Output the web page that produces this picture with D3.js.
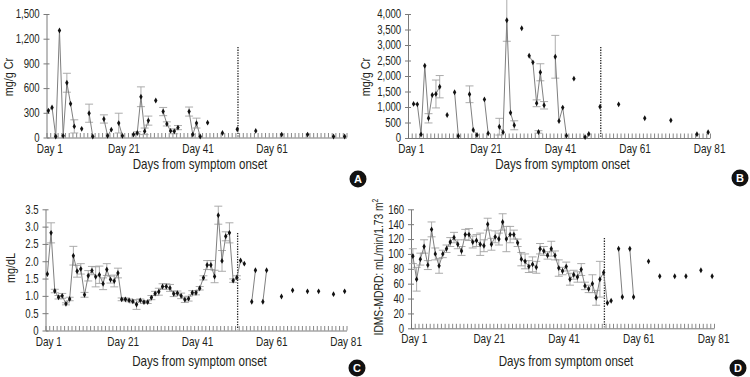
<!DOCTYPE html>
<html><head><meta charset="utf-8">
<script src="https://cdn.jsdelivr.net/npm/d3@7"></script>
<style>
body{margin:0;background:#fff}
svg{display:block}
text{font-family:"Liberation Sans",Arial,sans-serif;fill:#231f20}
</style></head><body>
<svg id="c" width="750" height="377"></svg>
<script>
// ---------- data ----------
const aDays=[1,2,3,4,5,6,7,8,10,12,13,16,17,18,20,21,24,25,26,27,28,30,32,33,34,35,36,39,40,41,42,44,48,52,57,64,71,78,81];
const aVals=[325,365,12,1300,20,665,410,135,105,295,12,225,20,95,175,20,35,55,495,75,205,450,315,165,80,75,120,315,35,175,12,180,55,100,80,35,35,12,12];
const aErr=[0,0,0,0,0,115,0,80,0,110,0,50,0,0,120,0,0,15,120,40,55,0,50,25,0,30,25,55,0,60,0,0,0,0,0,0,0,0,0];
const aSeg=[1,1,1,1,1,1,1,1,0,2,2,3,3,3,4,4,5,5,5,5,5,0,6,6,6,6,6,7,7,7,7,0,0,0,0,0,0,0,0];
const aTicks=[0,300,600,900,1200,1500];

const bDays=[2,3,4,5,6,7,8,9,11,13,14,17,18,19,21,22,25,26,27,28,29,31,33,34,35,35.5,36,37,40,41,42,43,45,48,49,52,57,64,71,78,81];
const bVals=[1100,1085,115,2330,635,1385,1420,1655,740,1475,65,1410,260,95,1245,150,365,185,3800,815,410,3540,2655,2440,1120,195,2120,1055,2620,550,980,75,1915,30,130,1010,1085,635,570,120,185];
const bErr=[0,0,0,0,150,0,450,360,0,0,0,270,0,0,0,0,270,0,680,0,145,0,0,0,110,40,275,120,690,0,0,0,0,0,0,0,0,0,0,0,0];
const bSeg=[1,1,1,1,1,1,1,1,0,2,2,3,3,3,4,4,5,5,5,5,5,0,6,6,6,0,6,6,7,7,7,7,0,0,0,0,0,0,0,0,0];
const bTicks=[0,500,1000,1500,2000,2500,3000,3500,4000];

const cDays=[1,2,3,4,5,6,7,8,9,10,11,12,13,14,15,16,17,18,19,20,21,22,23,24,25,26,27,28,29,30,31,32,33,34,35,36,37,38,39,40,41,42,43,44,45,46,47,48,49,50,51,52,53,54,56,57,59,60,64,67,71,74,78,81];
const cVals=[1.63,2.82,1.14,0.96,1.00,0.77,0.91,2.16,1.71,1.78,1.03,1.58,1.73,1.55,1.61,1.35,1.76,1.47,1.43,1.66,0.90,0.90,0.87,0.84,0.75,0.87,0.82,0.82,0.95,1.07,1.12,1.27,1.27,1.23,1.06,1.08,1.00,0.89,0.92,1.09,1.09,1.22,1.52,1.89,1.89,1.56,3.33,2.01,2.72,2.82,1.44,1.53,2.02,1.93,0.83,1.74,0.83,1.74,0.98,1.16,1.13,1.13,1.05,1.13];
const cErr=[0,0.29,0.05,0.05,0.07,0.03,0.05,0.27,0.17,0.15,0.07,0.15,0.12,0.29,0.25,0.17,0.17,0.1,0.17,0.14,0.04,0.04,0.04,0.04,0.14,0.04,0.04,0.04,0.06,0.06,0.1,0.08,0.08,0.1,0.08,0.06,0.08,0.08,0.07,0.06,0.06,0.05,0.06,0.13,0.13,0.18,0.26,0.3,0.13,0.29,0.05,0.05,0,0,0,0,0,0,0,0,0,0,0,0];
const cSeg=[1,1,1,1,1,1,1,1,1,1,1,1,1,1,1,1,1,1,1,1,1,1,1,1,1,1,1,1,1,1,1,1,1,1,1,1,1,1,1,1,1,1,1,1,1,1,1,1,1,1,1,1,1,1,2,2,3,3,0,0,0,0,0,0];
const cTicks=[0,0.5,1.0,1.5,2.0,2.5,3.0,3.5];

const dDays=[1,2,3,4,5,6,7,8,9,10,11,12,13,14,15,16,17,18,19,20,21,22,23,24,25,26,27,28,29,30,31,32,33,34,35,36,37,38,39,40,41,42,43,44,45,46,47,48,49,50,51,52,53,54,56,57,59,60,64,67,71,74,78,81];
const dVals=[97,66,93,110,85,133,100,84,100,107,116,122,113,104,126,126,116,118,113,111,140,113,123,120,143,120,126,126,115,93,90,83,86,82,107,104,98,107,98,81,77,83,66,72,69,79,57,53,60,41,66,75,34,37,107,42,107,42,90,70,70,70,78,70];
const dErr=[10,16,8,9,6,10,8,10,5,5,6,7,6,6,7,8,8,8,15,8,8,8,8,8,11,17,11,6,5,9,10,8,10,8,7,6,5,10,6,11,5,6,8,6,7,8,5,5,12,10,24,0,0,0,0,0,0,0,0,0,0,0,0,0];
const dSeg=[1,1,1,1,1,1,1,1,1,1,1,1,1,1,1,1,1,1,1,1,1,1,1,1,1,1,1,1,1,1,1,1,1,1,1,1,1,1,1,1,1,1,1,1,1,1,1,1,1,1,1,1,1,1,2,2,3,3,0,0,0,0,0,0];
const dTicks=[0,20,40,60,80,100,120,140,160];

const dayLabelsA=[1,21,41,61];
const dayLabelsAll=[1,21,41,61,81];
const cutDay=52.2;
const xTitle="Days from symptom onset";

// ---------- drawing ----------
const svg=d3.select("#c");
const AX="#7a7a7a", LINE="#808080", ERR="#a3a3a3";
const SX=0.8; // horizontal compression to mimic a narrow typeface

function ntext(g,x,y,size,str,anchor,extra){
  const t=g.append("text").attr("transform",`translate(${x},${y}) ${extra||""} scale(${SX},1)`)
    .attr("text-anchor",anchor||"middle").attr("font-size",size);
  if(str!==undefined) t.text(str);
  return t;
}

function panel(L, days, vals, errs, segs, yTicks, yFmt, dayLabels, yTitle, letter){
  const g=svg.append("g");
  const x=d3.scaleLinear().domain([0.5,81.5]).range([L.ax,L.ax2]);
  const y=d3.scaleLinear().domain([0,yTicks[yTicks.length-1]]).range([L.ay,L.ytop]);

  // y axis
  const ya=g.append("g").attr("transform",`translate(${L.ax},0)`)
    .call(d3.axisLeft(y).tickValues(yTicks).tickFormat(yFmt).tickSize(3).tickSizeOuter(0).tickPadding(5.5));
  ya.select(".domain").attr("stroke",AX).attr("stroke-width",1);
  ya.selectAll(".tick line").attr("stroke",AX).attr("x2",3).attr("x1",-3);
  ya.selectAll(".tick text").attr("font-size",12).attr("font-family",null)
    .attr("transform",`scale(${SX},1)`).style("fill","#231f20");

  // x axis with per-day inside ticks
  const xa=g.append("g").attr("transform",`translate(0,${L.ay})`)
    .call(d3.axisBottom(x).tickValues(d3.range(0.5,82,1)).tickSize(-4.5).tickSizeOuter(0).tickFormat(""));
  xa.select(".domain").attr("stroke",AX).attr("stroke-width",1);
  xa.selectAll(".tick line").attr("stroke","#6a6a6a").attr("stroke-width",0.8);
  dayLabels.forEach(d=>ntext(g,x(d)+1.5,L.ay+15,12.5,"Day "+d));

  // cut-off dotted line
  g.append("line").attr("x1",x(cutDay)).attr("x2",x(cutDay)).attr("y1",L.dotTop).attr("y2",L.ay-1)
    .attr("stroke","#222").attr("stroke-width",1.3).attr("stroke-dasharray","1.3,1.3");

  const pts=days.map((d,i)=>({d,v:vals[i],e:errs[i],s:segs[i]}));

  // error bars
  const eb=g.append("g").attr("stroke",ERR).attr("stroke-width",0.9);
  pts.filter(p=>p.e>0).forEach(p=>{
    const X=x(p.d), y1=y(Math.max(0,p.v-p.e)), y2=y(p.v+p.e);
    eb.append("line").attr("x1",X).attr("x2",X).attr("y1",y1).attr("y2",y2);
    eb.append("line").attr("x1",X-4).attr("x2",X+4).attr("y1",y1).attr("y2",y1);
    eb.append("line").attr("x1",X-4).attr("x2",X+4).attr("y1",y2).attr("y2",y2);
  });

  // connecting lines
  const groups=d3.group(pts.filter(p=>p.s>0),p=>p.s);
  const line=d3.line().x(p=>x(p.d)).y(p=>y(p.v));
  for(const [k,arr] of groups){
    g.append("path").attr("d",line(arr)).attr("fill","none").attr("stroke",LINE).attr("stroke-width",1);
  }

  // markers
  g.selectAll(".m").data(pts).enter().append("path")
    .attr("transform",p=>`translate(${x(p.d)},${y(p.v)})`)
    .attr("d",d3.symbol().type(d3.symbolDiamond).size(10)).attr("fill","#111");

  // titles
  ntext(g,(L.ax+L.ax2)/2+3.5,L.xtY,14.5,xTitle);
  const yt=ntext(g,L.ytX,L.ytY,L.ytS||13.5,undefined,"middle","rotate(-90)");
  yt.append("tspan").text(yTitle[0]);
  if(yTitle[1]) yt.append("tspan").attr("dy",-5).attr("font-size",8.5).text(yTitle[1]);

  // badge
  g.append("circle").attr("cx",L.bx).attr("cy",L.by).attr("r",8.5).attr("fill","#111");
  g.append("text").attr("x",L.bx).attr("y",L.by+4).attr("text-anchor","middle")
    .attr("font-size",11).attr("font-weight","bold").style("fill","#fff").text(letter);
}

const fmtC=d3.format(",");
panel({ax:46.5,ax2:346.5,ay:137.5,ytop:14,dotTop:47,xtY:169,ytX:13,ytY:77,bx:358,by:179},
  aDays,aVals,aErr,aSeg,aTicks,fmtC,dayLabelsA,["mg/g Cr"],"A");
panel({ax:408,ax2:710,ay:138,ytop:14,dotTop:47,xtY:169,ytX:370,ytY:77,bx:740,by:178},
  bDays,bVals,bErr,bSeg,bTicks,fmtC,dayLabelsAll,["mg/g Cr"],"B");
panel({ax:45.5,ax2:346.5,ay:330.5,ytop:209.3,dotTop:233,xtY:366,ytX:15,ytY:268,bx:357,by:368},
  cDays,cVals,cErr,cSeg,cTicks,v=>v===0?"0":v.toFixed(1),dayLabelsAll,["mg/dL"],"C");
panel({ax:411,ax2:714,ay:328.3,ytop:209.3,dotTop:238,xtY:366,ytX:383,ytY:267,ytS:12.8,bx:738,by:368},
  dDays,dVals,dErr,dSeg,dTicks,d3.format("d"),dayLabelsAll,["IDMS-MDRD: mL/min/1.73 m","2"],"D");
</script>
</body></html>
